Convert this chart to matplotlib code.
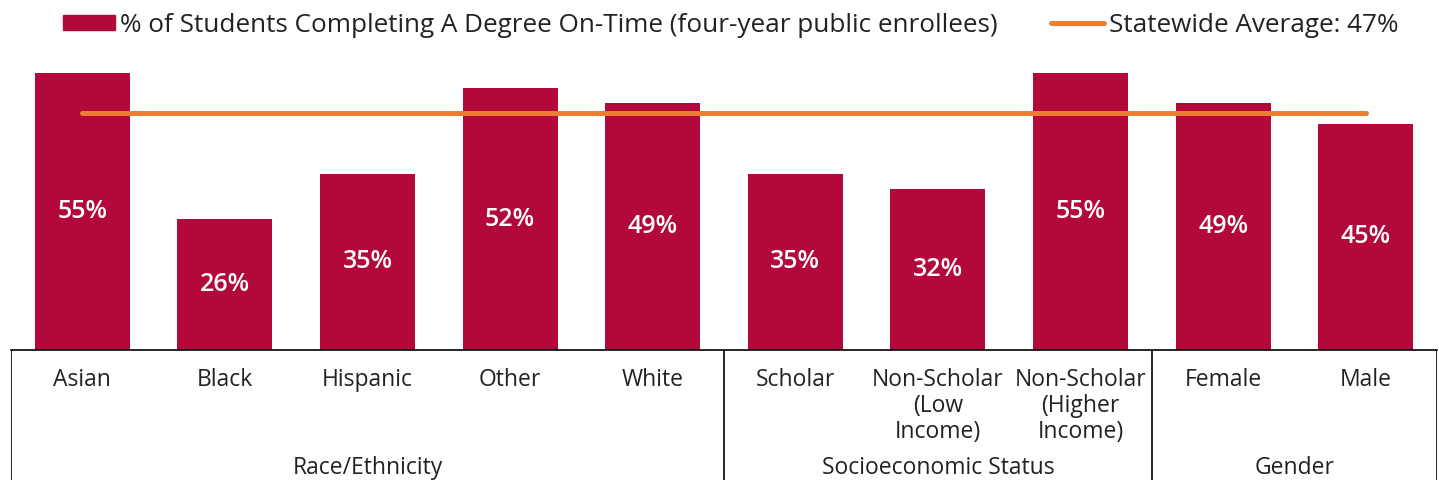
import numpy as np
import matplotlib.pyplot as plt
from matplotlib.patches import Patch
from matplotlib.lines import Line2D

# Dados
categorias = ['Asian', 'Black', 'Hispanic', 'Other', 'White',
              'Scholar', 'Non-Scholar\n(Low\nIncome)', 'Non-Scholar\n(Higher\nIncome)',
              'Female', 'Male']
valores = [55, 26, 35, 52, 49, 35, 32, 55, 49, 45]
media_estadual = 47
grupos = ['Race/Ethnicity', 'Socioeconomic Status', 'Gender']
tamanho_grupos = [5, 3, 2]

cor_barra = '#B3093A'
cor_media = '#ED7D31'
cor_texto = '#222222'

plt.rcParams['font.family'] = ['Open Sans', 'DejaVu Sans']

W, H = 1439, 480
fig = plt.figure(figsize=(W / 100, H / 100), dpi=100)

esq, dir_ = 11 / W, 1437 / W
base = 130 / H
ax = fig.add_axes([esq, base, dir_ - esq, 1 - 48 / H - base])

x = np.arange(len(valores))
ax.bar(x, valores, width=0.667, color=cor_barra)
ax.plot(x, [media_estadual] * len(x), color=cor_media, lw=3.6, solid_capstyle='round')

# Rótulos de valor no meio das barras
for xi, v in zip(x, valores):
    ax.text(xi, v / 2, f'{v}%', ha='center', va='center', color='white',
            fontsize=18, fontweight='semibold')

ax.set_xlim(-0.5, len(x) - 0.5)
ax.set_ylim(0, 60)
ax.set_xticks([])
ax.set_yticks([])
for s in ['top', 'left', 'right']:
    ax.spines[s].set_visible(False)
ax.spines['bottom'].set_color('black')
ax.spines['bottom'].set_linewidth(1.2)

# Eixo de categorias agrupadas
ax2 = fig.add_axes([esq, 0, dir_ - esq, base])
ax2.set_xlim(-0.5, len(x) - 0.5)
ax2.set_ylim(0, 130)
ax2.axis('off')

limites = np.concatenate([[0], np.cumsum(tamanho_grupos)]) - 0.5
ax2.vlines(limites, 0, 130, color='black', lw=1.2)
for xi, cat in zip(x, categorias):
    ax2.text(xi, 112, cat, ha='center', va='top', fontsize=16.5,
             color=cor_texto, linespacing=1.1)
for i, g in enumerate(grupos):
    centro = (limites[i] + limites[i + 1]) / 2
    ax2.text(centro, 12, g, ha='center', va='center', fontsize=16.5, color=cor_texto)

# Legenda
handles = [Patch(color=cor_barra),
           Line2D([0], [0], color=cor_media, lw=3.6, solid_capstyle='round')]
labels = ['% of Students Completing A Degree On-Time (four-year public enrollees)',
          'Statewide Average: 47%']
fig.legend(handles, labels, loc='center', bbox_to_anchor=(0.5 + 11 / W, 1 - 25 / H),
           ncol=2, frameon=False, fontsize=18.8, handlelength=2.0, handleheight=0.5,
           handletextpad=0.2, columnspacing=2.05, labelcolor=cor_texto)

fig.savefig('out.png', dpi=100)
